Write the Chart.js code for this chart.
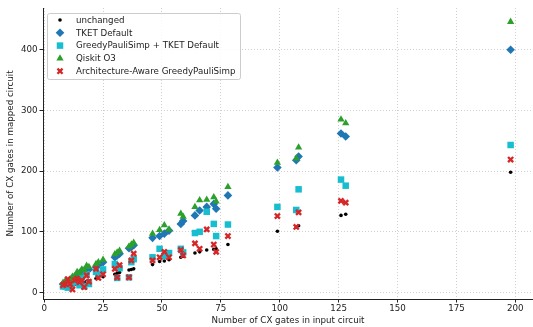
<!DOCTYPE html>
<html>
<head>
<meta charset="utf-8">
<script src="https://cdn.jsdelivr.net/npm/chart.js@4/dist/chart.umd.min.js"></script>
<style>
  html, body { margin: 0; padding: 0; background: #fff; }
  #graph { display: block; }
</style>
</head>
<body>
<canvas id="graph" width="533" height="327"></canvas>
<script>
// one entry per benchmark circuit
const inputCx    = [8, 9, 10, 11, 12, 13, 14, 15, 16, 17, 18, 19, 22, 23, 25, 30, 31, 32, 36, 37, 38, 46, 49, 51, 53, 58, 59, 64, 66, 69, 72, 73, 78, 99, 107, 108, 126, 128, 198];
const unchanged  = [8, 9, 10, 11, 12, 13, 14, 15, 16, 17, 18, 19, 23, 24, 26, 30, 32, 33, 37, 38, 39, 46, 51, 52, 54, 58, 60, 65, 67, 70, 71, 72, 79, 101, 108, 110, 127, 129, 198];
const tketDefault = [14, 17, 15, 20, 24, 22, 30, 29, 36, 33, 40, 38, 42, 45, 50, 58, 61, 64, 73, 75, 78, 90, 93, 97, 102, 113, 118, 127, 135, 141, 146, 138, 160, 206, 218, 224, 262, 257, 400];
const gpsTket    = [10, 12, 8, 13, 16, 18, 20, 12, 26, 10, 30, 14, 34, 30, 38, 47, 24, 40, 25, 50, 55, 58, 72, 60, 65, 72, 66, 98, 100, 133, 113, 93, 112, 141, 136, 170, 186, 176, 243];
const qiskitO3   = [16, 19, 18, 22, 26, 27, 34, 32, 38, 37, 44, 42, 47, 50, 54, 63, 66, 69, 76, 79, 82, 97, 103, 111, 104, 130, 125, 141, 152, 153, 157, 150, 174, 214, 221, 239, 285, 279, 446];
const archAware  = [12, 14, 22, 14, 5, 20, 23, 17, 20, 9, 28, 18, 39, 24, 30, 39, 25, 45, 25, 53, 64, 53, 58, 67, 58, 70, 61, 81, 72, 104, 79, 67, 93, 126, 108, 132, 151, 148, 219];

const xTicks = [0, 25, 50, 75, 100, 125, 150, 175, 200];
const yTicks = [0, 100, 200, 300, 400];

const FONT = "'DejaVu Sans', sans-serif";
const INK = "#222222";

function pts(ys) {
  return inputCx.map((x, i) => ({x: x, y: ys[i]}));
}

// legend drawn inside the plot, matplotlib style
const innerLegend = {
  id: "innerLegend",
  afterDraw(chart) {
    const ctx = chart.ctx;
    const x0 = chart.chartArea.left + 4, y0 = chart.chartArea.top + 5;
    const w = 193, h = 66, row = 12.8;
    ctx.save();
    ctx.beginPath();
    ctx.roundRect(x0 + 0.5, y0 + 0.5, w, h, 2);
    ctx.fillStyle = "rgba(255,255,255,0.85)";
    ctx.fill();
    ctx.strokeStyle = "#cccccc";
    ctx.lineWidth = 1;
    ctx.stroke();
    ctx.font = "8.7px " + FONT;
    ctx.textBaseline = "middle";
    chart.data.datasets.forEach((ds, i) => {
      const cy = y0 + 7 + i * row;
      ctx.fillStyle = ds.pointBackgroundColor;
      ctx.strokeStyle = ds.pointBorderColor;
      ctx.lineWidth = ds.pointBorderWidth;
      Chart.helpers.drawPoint(ctx, {
        pointStyle: ds.pointStyle, radius: ds.pointRadius,
        borderWidth: ds.pointBorderWidth, rotation: 0
      }, x0 + 13, cy);
      ctx.fillStyle = INK;
      ctx.fillText(ds.label, x0 + 29, cy + 0.5);
    });
    ctx.restore();
  }
};

// no extra room for edge labels, the plot runs to the right edge
function noPad(s) {
  s.paddingLeft = 0; s.paddingRight = 0; s.paddingTop = 0; s.paddingBottom = 0;
}

const mychart = new Chart(document.getElementById("graph"), {
  type: "scatter",
  data: {
    datasets: [
      {
        label: "unchanged", data: pts(unchanged), order: 5,
        pointStyle: "circle", pointRadius: 1.8, pointBorderWidth: 0,
        pointBackgroundColor: "#000000", pointBorderColor: "#000000"
      },
      {
        label: "TKET Default", data: pts(tketDefault), order: 4,
        pointStyle: "rectRot", pointRadius: 4.3, pointBorderWidth: 0,
        pointBackgroundColor: "#1f77b4", pointBorderColor: "#1f77b4"
      },
      {
        label: "GreedyPauliSimp + TKET Default", data: pts(gpsTket), order: 3,
        pointStyle: "rect", pointRadius: 4.6, pointBorderWidth: 0,
        pointBackgroundColor: "#17becf", pointBorderColor: "#17becf"
      },
      {
        label: "Qiskit O3", data: pts(qiskitO3), order: 2,
        pointStyle: "triangle", pointRadius: 4.2, pointBorderWidth: 0,
        pointBackgroundColor: "#2ca02c", pointBorderColor: "#2ca02c"
      },
      {
        label: "Architecture-Aware GreedyPauliSimp", data: pts(archAware), order: 1,
        pointStyle: "crossRot", pointRadius: 3.6, pointBorderWidth: 2.4,
        pointBackgroundColor: "#d62728", pointBorderColor: "#d62728"
      },
    ],
  },
  options: {
    responsive: false,
    animation: false,
    devicePixelRatio: 1,
    layout: { autoPadding: false, padding: { top: 8, right: 0, left: 0, bottom: 0 } },
    plugins: {
      legend: { display: false },
      tooltip: { enabled: false },
    },
    scales: {
      x: {
        type: "linear",
        min: -0.5,
        max: 207.5,
        afterBuildTicks: (s) => { s.ticks = xTicks.map(v => ({value: v})); },
        afterFit: (s) => { s.height = 28; noPad(s); },
        ticks: { color: INK, font: { family: FONT, size: 8.7 }, padding: 1, maxRotation: 0 },
        grid: { color: "#c4c4c4", lineWidth: 0.8, tickColor: INK, tickLength: 3.5, tickWidth: 1 },
        border: { display: true, color: INK, width: 1, dash: [1, 2] },
        title: {
          display: true, text: "Number of CX gates in input circuit",
          color: INK, font: { family: FONT, size: 8.7 }, padding: { top: 0, bottom: 1 }
        },
      },
      y: {
        type: "linear",
        min: -10.7,
        max: 468.7,
        afterBuildTicks: (s) => { s.ticks = yTicks.map(v => ({value: v})); },
        afterFit: (s) => { s.width = 43; noPad(s); },
        ticks: { color: INK, font: { family: FONT, size: 8.7 }, padding: 2 },
        grid: { color: "#c4c4c4", lineWidth: 0.8, tickColor: INK, tickLength: 3.5, tickWidth: 1 },
        border: { display: true, color: INK, width: 1, dash: [1, 2] },
        title: {
          display: true, text: "Number of CX gates in mapped circuit",
          color: INK, font: { family: FONT, size: 8.7 }, padding: { top: 6, bottom: 0 }
        },
      },
    },
  },
  plugins: [innerLegend],
});
</script>
</body>
</html>
